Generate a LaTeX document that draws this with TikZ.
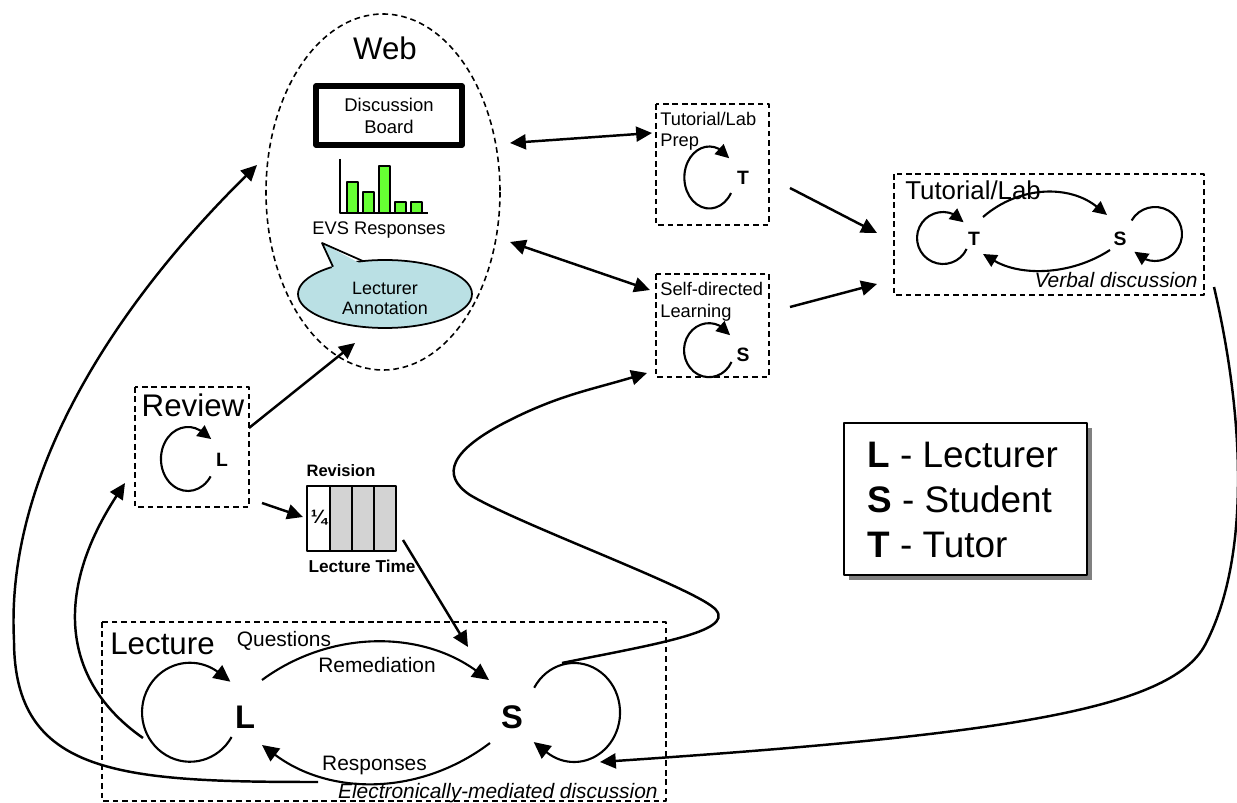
\documentclass[tikz,border=0pt]{standalone}
\usepackage{fontspec}
\setmainfont{Liberation Sans}
\usetikzlibrary{arrows.meta}
\definecolor{bargreen}{RGB}{102,255,51}
\definecolor{notecyan}{RGB}{186,224,228}
\definecolor{cellgrey}{RGB}{211,211,211}
\definecolor{shadegrey}{RGB}{128,128,128}
\begin{document}
\begin{tikzpicture}[x=0.02cm, y=-0.02cm, line join=round,
  >={Triangle[length=9pt,width=8.5pt]},
  conn/.style={line width=1.4pt},
  cyc/.style={line width=1.2pt, -{Triangle[length=9.5pt,width=9pt]}},
  cycsm/.style={line width=1.2pt, -{Triangle[length=7.8pt,width=7.5pt]}},
  zone/.style={line width=0.9pt, dash pattern=on 3.2pt off 2.2pt},
  areatxt/.style={font=\fontsize{17.8}{20}\selectfont, inner sep=0pt},
  flowtxt/.style={font=\fontsize{11.9}{14}\selectfont, inner sep=0pt},
  notetxt/.style={font=\fontsize{10.4}{12.5}\selectfont, inner sep=0pt},
  roletxt/.style={font=\bfseries\fontsize{18.6}{20}\selectfont, inner sep=0pt},
  rolesm/.style={font=\bfseries\fontsize{11}{13}\selectfont, inner sep=0pt},
  keytxt/.style={font=\fontsize{21}{24}\selectfont, inner sep=0pt}]
\useasboundingbox (0,0) rectangle (1237,803);

\draw[zone] (383,192) ellipse [x radius=117, y radius=178];
\node[areatxt, anchor=base] (webtitle) at (385,60) {Web};
\node[draw, line width=3.1pt, minimum width=2.92cm, minimum height=1.18cm,
  align=center, notetxt, font=\fontsize{10.5}{12.5}\selectfont] (board) at (389,115.5) {Discussion\\Board};
\draw[line width=1pt] (340,159) -- (340,213) -- (428,213);
\foreach \bx/\btop in {347/182,363/192,379/166,395/202,411/202}
  \filldraw[fill=bargreen, line width=1pt] (\bx,\btop) rectangle (\bx+11,213);
\node[notetxt, anchor=base] (evs) at (379,235) {EVS Responses};
\filldraw[fill=notecyan, line width=1pt] (385,294) ellipse [x radius=87, y radius=34];
\fill[notecyan] (333,270) -- (322,243) -- (363,265) -- cycle;
\draw[line width=1pt] (333,266.7) -- (322,243) -- (363,261.1);
\node[notetxt, align=center, font=\fontsize{10.2}{11.3}\selectfont] (annot) at (385,298.3) {Lecturer\\Annotation};

\draw[zone] (656,104) rectangle (769,225);
\node[notetxt, anchor=base west] (prepA) at (660,126) {Tutorial/Lab};
\node[notetxt, anchor=base west] (prepB) at (660,147) {Prep};
\draw[cycsm] (731,193) arc[start angle=30, end angle=292, x radius=25, y radius=31] -- ++(10.5,9.5);
\node[rolesm, anchor=base] (prepT) at (743,185) {T};

\draw[zone] (656,274) rectangle (769,377);
\node[notetxt, anchor=base west] (selfA) at (660,296) {Self-directed};
\node[notetxt, anchor=base west] (selfB) at (660,318) {Learning};
\draw[cycsm] (731.5,362) arc[start angle=26, end angle=295, x radius=25, y radius=27] -- ++(10.5,9.5);
\node[rolesm, anchor=base] (selfS) at (743,362) {S};

\draw[zone] (894,174) rectangle (1204,295);
\node[areatxt, font=\fontsize{14.7}{17}\selectfont, anchor=base west] (tuttitle) at (905,200) {Tutorial/Lab};
\node[rolesm, anchor=base] (tutT) at (974,246) {T};
\node[rolesm, anchor=base] (tutS) at (1120,246) {S};
\draw[cycsm] (966.6,249) arc[start angle=25, end angle=294, x radius=26, y radius=26] -- ++(10,8);
\draw[cycsm] (1131.6,220.5) arc[start angle=210, end angle=471, x radius=27, y radius=27] -- ++(-11,-7.5);
\draw[cycsm] (983,217) .. controls (1020,185) and (1070,185) .. (1107,215);
\draw[cycsm] (1110,250) .. controls (1070,276) and (1020,276) .. (983,254);
\node[flowtxt, font=\itshape\fontsize{11.9}{14}\selectfont, anchor=base east] (verbal) at (1198,288) {Verbal discussion};

\draw[zone] (135,387) rectangle (249,507);
\node[areatxt, anchor=base] (reviewtitle) at (193,417) {Review};
\draw[cycsm] (210.6,476.4) arc[start angle=33, end angle=297, x radius=27, y radius=32] -- ++(11,8.6);
\node[rolesm, anchor=base] (reviewL) at (222,467) {L};

\fill[cellgrey] (330,486) rectangle (396,551);
\draw[line width=1.4pt] (307,486) rectangle (396,551);
\foreach \cx in {330,352,374}
  \draw[line width=1.4pt] (\cx,486) -- (\cx,551);
\node[font=\bfseries\fontsize{11}{12}\selectfont, inner sep=0pt] (quarter) at (319,518) {¼};
\node[font=\bfseries\fontsize{9.4}{11}\selectfont, inner sep=0pt, anchor=base] (revA) at (341,477) {Revision};
\node[font=\bfseries\fontsize{9.8}{11}\selectfont, inner sep=0pt, anchor=base] (revB) at (362,572) {Lecture Time};

\draw[zone] (102,622) rectangle (666,801);
\node[areatxt, anchor=base west] (lecturetitle) at (110,654) {Lecture};
\node[roletxt, anchor=base] (lecL) at (245,728) {L};
\node[roletxt, anchor=base] (lecS) at (512,728) {S};
\draw[cyc] (231.6,737) arc[start angle=30, end angle=304, x radius=48, y radius=49.5] -- ++(13.5,10.5);
\draw[cyc] (534.2,687.75) arc[start angle=210, end angle=486, x radius=46, y radius=49.5] -- ++(-13.3,-10.5);
\draw[cyc] (262,680) .. controls (330,630) and (420,630) .. (489,680);
\draw[cyc] (490,743) .. controls (420,796) and (330,796) .. (262,745);
\node[flowtxt, anchor=base] (questions) at (284,646) {Questions};
\node[flowtxt, anchor=base] (remediation) at (377,672) {Remediation};
\node[flowtxt, anchor=base] (responses) at (374.5,770) {Responses};
\node[flowtxt, font=\itshape\fontsize{11.9}{14}\selectfont, anchor=base east] (elec) at (658,798) {Electronically-mediated discussion};

\fill[shadegrey] (849,428) rectangle (1092,580);
\draw[line width=1.1pt, fill=white] (844,423) rectangle (1087,575);
\node[keytxt, anchor=base west] (keyL) at (867,468) {\textbf{L} - Lecturer};
\node[keytxt, anchor=base west] (keyS) at (867,513) {\textbf{S} - Student};
\node[keytxt, anchor=base west] (keyT) at (867,557) {\textbf{T} - Tutor};

\coordinate (webPrepEnd) at (510,143);
\coordinate (prepIn) at (652,133);
\coordinate (webSelfEnd) at (510,242);
\coordinate (selfIn) at (650,290);
\coordinate (prepOut) at (790,188);
\coordinate (tutInA) at (877,233);
\coordinate (selfOut) at (790,307);
\coordinate (tutInB) at (877,284);
\coordinate (reviewOut) at (249,428);
\coordinate (webIn) at (355,343);
\coordinate (reviewDown) at (262,503);
\coordinate (revisionIn) at (303,517);
\coordinate (revisionOut) at (403,540);
\coordinate (lecSIn) at (468,647);
\coordinate (lecLOut) at (143,738);
\coordinate (reviewIn) at (125,483);
\coordinate (respOut) at (318,782);
\coordinate (webLeftIn) at (257,165);
\coordinate (lecSTop) at (562,663);
\coordinate (selfLeftIn) at (647,373);
\coordinate (tutOut) at (1214,287);
\coordinate (lecSRight) at (600,762);

\draw[conn, <->] (webPrepEnd) -- (prepIn);
\draw[conn, <->] (webSelfEnd) -- (selfIn);
\draw[conn, ->] (prepOut) -- (tutInA);
\draw[conn, ->] (selfOut) -- (tutInB);
\draw[conn, ->] (reviewOut) -- (webIn);
\draw[conn, ->] (reviewDown) -- (revisionIn);
\draw[conn, ->] (revisionOut) -- (lecSIn);
\draw[conn, ->] (lecLOut) .. controls (60,680) and (55,590) .. (reviewIn);
\draw[conn, ->] (respOut) .. controls (120,782) and (14,775) .. (14,640)
  .. controls (5,470) and (120,300) .. (webLeftIn);
\draw[conn, ->] (tutOut) .. controls (1245,420) and (1250,560) .. (1205,645)
  .. controls (1170,710) and (1000,735) .. (lecSRight);
\draw[conn, ->] (lecSTop) .. controls (650,645) and (735,632) .. (716,610)
  .. controls (700,590) and (520,525) .. (470,495)
  .. controls (440,475) and (450,450) .. (510,420)
  .. controls (560,395) and (590,390) .. (selfLeftIn);
\end{tikzpicture}
\end{document}
